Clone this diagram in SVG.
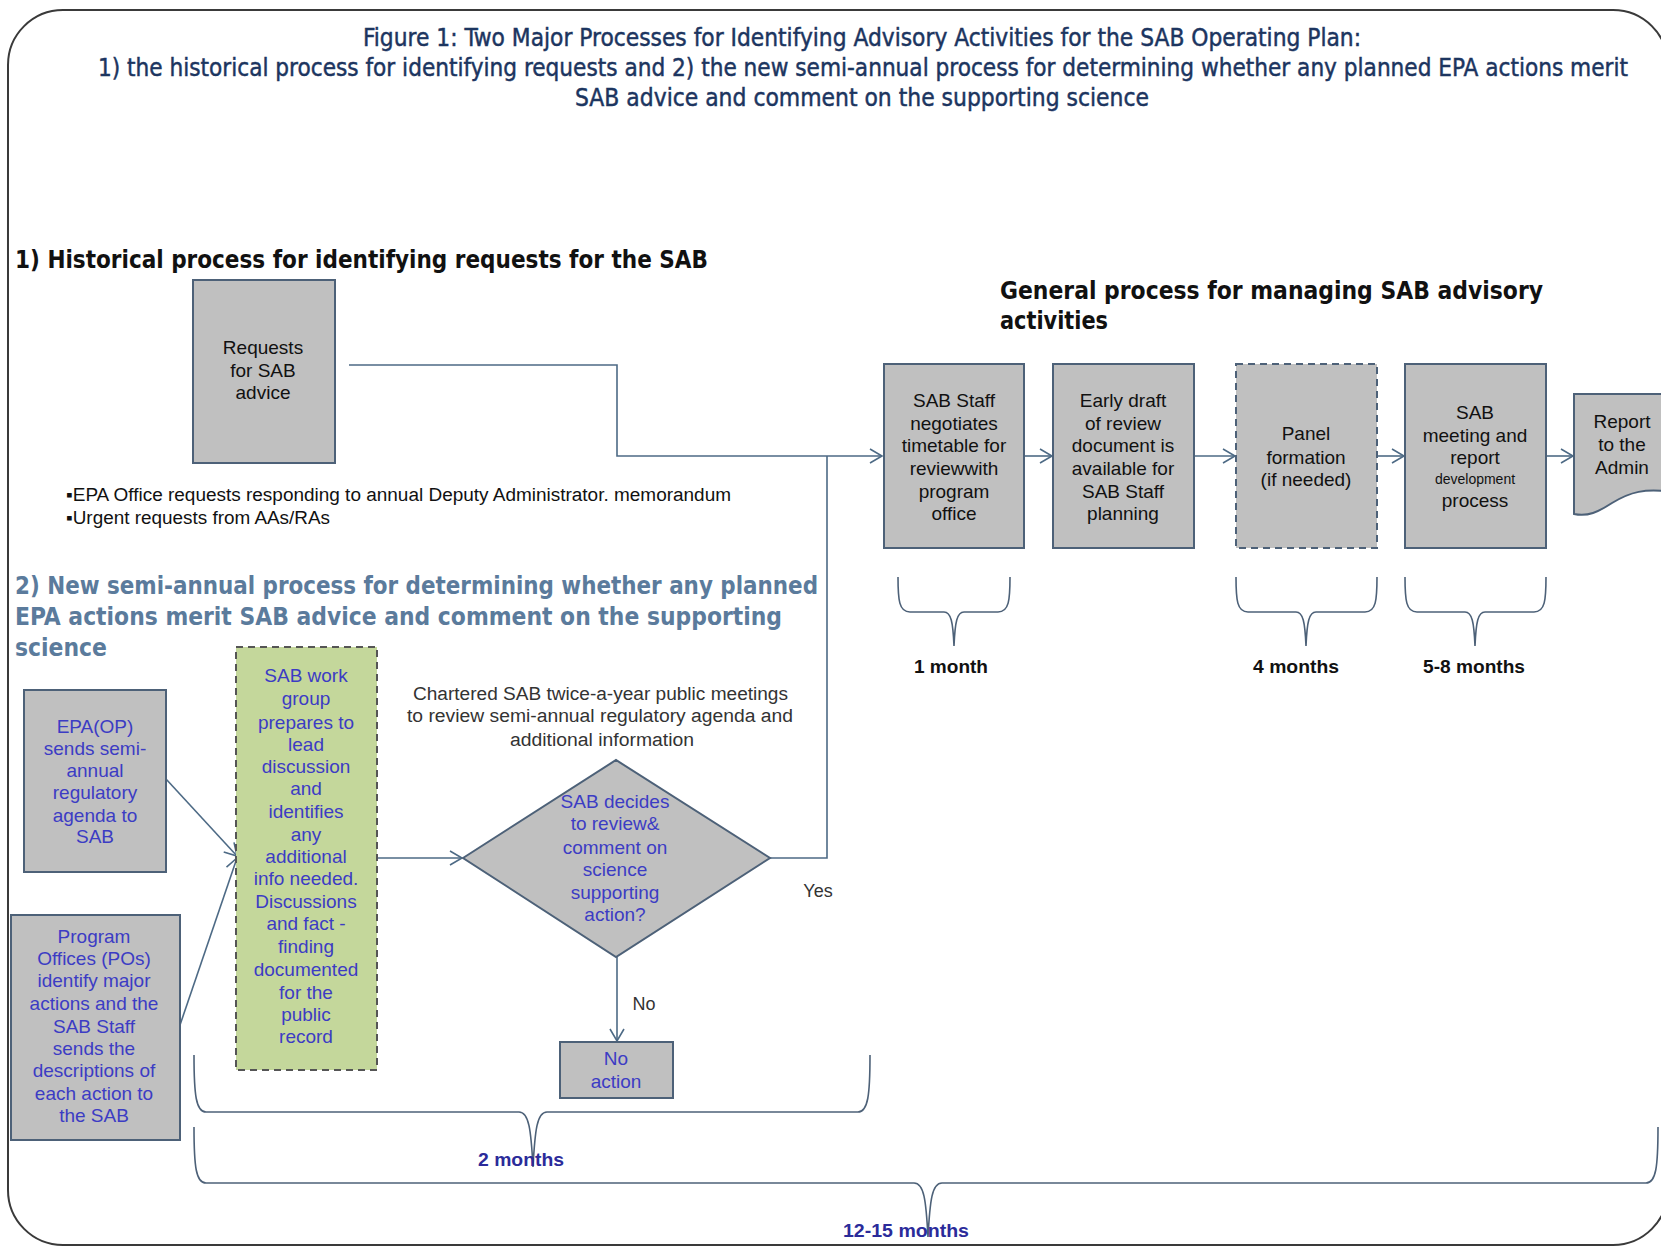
<svg xmlns="http://www.w3.org/2000/svg" width="1661" height="1247" viewBox="0 0 1661 1247">
<style>
.frame{fill:#fff;stroke:#3a3a3a;stroke-width:2}
.box{fill:#c0c0c0;stroke:#4d6178;stroke-width:2}
.dash{stroke-dasharray:7,5}
.green{fill:#c4d79b;stroke:#555;stroke-width:2;stroke-dasharray:7,5}
.con{fill:none;stroke:#4d6a85;stroke-width:1.6}
.brace{fill:none;stroke:#4d6178;stroke-width:1.6}
.title{font-family:"Liberation Sans Narrow","DejaVu Sans Condensed","Liberation Sans",sans-serif;font-size:22px;fill:#1c3560;stroke:#1c3560;stroke-width:0.4}
.h1{font-family:"Liberation Sans Narrow","DejaVu Sans Condensed","Liberation Sans",sans-serif;font-size:25px;font-weight:bold;fill:#111}
.h2{font-family:"Liberation Sans Narrow","DejaVu Sans Condensed","Liberation Sans",sans-serif;font-size:25px;font-weight:bold;fill:#5b7b9c}
.bul{font-family:"Liberation Sans Narrow","Liberation Sans",sans-serif;font-size:18px;fill:#111}
.bt{font-family:"Liberation Sans",Arial,sans-serif;font-size:19px;fill:#111;text-anchor:middle}
.blue{font-family:"Liberation Sans",Arial,sans-serif;font-size:19px;fill:#3c3cc4;text-anchor:middle}
.note{font-family:"Liberation Sans",Arial,sans-serif;font-size:18px;fill:#333;text-anchor:middle}
.dur{font-family:"Liberation Sans Narrow","Liberation Sans",sans-serif;font-size:19px;font-weight:bold;fill:#111}
.durb{font-family:"Liberation Sans Narrow","Liberation Sans",sans-serif;font-size:19px;font-weight:bold;fill:#2b2b9a}
</style>
<defs>
<marker id="arr" markerUnits="userSpaceOnUse" markerWidth="16" markerHeight="18" refX="13" refY="8" orient="auto">
<path d="M1,1 L13,8 L1,15" fill="none" stroke="#4d6a85" stroke-width="1.6"/>
</marker>
</defs>
<rect x="0" y="0" width="1661" height="1247" fill="#fff"/>
<rect class="frame" x="8" y="10" width="1660" height="1235" rx="55" ry="55"/>

<g id="titles">
<text class="title" x="363" y="0" transform="translate(0,46) scale(1,1.15)" textLength="998" lengthAdjust="spacingAndGlyphs">Figure 1: Two Major  Processes for Identifying Advisory Activities for the SAB Operating Plan:</text>
<text class="title" x="98" y="0" transform="translate(0,76) scale(1,1.15)" textLength="1530" lengthAdjust="spacingAndGlyphs">1) the historical process for identifying requests and 2) the new semi-annual process for determining whether any planned EPA actions merit</text>
<text class="title" x="575" y="0" transform="translate(0,106) scale(1,1.15)" textLength="574" lengthAdjust="spacingAndGlyphs">SAB advice and comment on the supporting science</text>
<text class="h1" x="15" y="268" textLength="693" lengthAdjust="spacingAndGlyphs">1) Historical process for identifying requests for the SAB</text>
<text class="h1" x="1000" y="299" textLength="543" lengthAdjust="spacingAndGlyphs">General process for managing  SAB advisory</text>
<text class="h1" x="1000" y="329" textLength="108" lengthAdjust="spacingAndGlyphs">activities</text>
<text class="bul" x="66" y="501" textLength="665" lengthAdjust="spacingAndGlyphs">▪EPA Office requests responding to annual Deputy Administrator. memorandum</text>
<text class="bul" x="66" y="524" textLength="264" lengthAdjust="spacingAndGlyphs">▪Urgent requests from AAs/RAs</text>
<text class="h2" x="15" y="594" textLength="803" lengthAdjust="spacingAndGlyphs">2) New semi-annual process for determining whether any planned</text>
<text class="h2" x="15" y="625" textLength="767" lengthAdjust="spacingAndGlyphs">EPA actions merit SAB advice and comment on the supporting</text>
<text class="h2" x="15" y="656" textLength="92" lengthAdjust="spacingAndGlyphs">science</text>
</g>

<g id="connectors">
<polyline class="con" points="349,365 617,365 617,456 882,456" marker-end="url(#arr)"/>
<polyline class="con" points="770,858 827,858 827,456"/>
<line class="con" x1="1024" y1="456" x2="1052" y2="456" marker-end="url(#arr)"/>
<line class="con" x1="1194" y1="456" x2="1235" y2="456" marker-end="url(#arr)"/>
<line class="con" x1="1377" y1="456" x2="1404" y2="456" marker-end="url(#arr)"/>
<line class="con" x1="1546" y1="456" x2="1573" y2="456" marker-end="url(#arr)"/>
<line class="con" x1="166" y1="779" x2="237" y2="856" marker-end="url(#arr)"/>
<line class="con" x1="180" y1="1025" x2="237" y2="858" marker-end="url(#arr)"/>
<line class="con" x1="377" y1="858" x2="462" y2="858" marker-end="url(#arr)"/>
<line class="con" x1="617" y1="957" x2="617" y2="1041" marker-end="url(#arr)"/>
<text class="note" x="818" y="897">Yes</text>
<text class="note" x="644" y="1010">No</text>
</g>

<g id="requests">
<rect class="box" x="193" y="280" width="142" height="183"/>
<text class="bt" x="263" y="354">Requests</text>
<text class="bt" x="263" y="377">for SAB</text>
<text class="bt" x="263" y="399">advice</text>
</g>

<g id="staff-negotiates">
<rect class="box" x="884" y="364" width="140" height="184"/>
<text class="bt" x="954" y="407">SAB Staff</text>
<text class="bt" x="954" y="430">negotiates</text>
<text class="bt" x="954" y="452">timetable for</text>
<text class="bt" x="954" y="475">reviewwith</text>
<text class="bt" x="954" y="498">program</text>
<text class="bt" x="954" y="520">office</text>
</g>

<g id="early-draft">
<rect class="box" x="1053" y="364" width="141" height="184"/>
<text class="bt" x="1123" y="407">Early draft</text>
<text class="bt" x="1123" y="430">of review</text>
<text class="bt" x="1123" y="452">document is</text>
<text class="bt" x="1123" y="475">available for</text>
<text class="bt" x="1123" y="498">SAB Staff</text>
<text class="bt" x="1123" y="520">planning</text>
</g>

<g id="panel-formation">
<rect class="box dash" x="1236" y="364" width="141" height="184"/>
<text class="bt" x="1306" y="440">Panel</text>
<text class="bt" x="1306" y="464">formation</text>
<text class="bt" x="1306" y="486">(if needed)</text>
</g>

<g id="sab-meeting">
<rect class="box" x="1405" y="364" width="141" height="184"/>
<text class="bt" x="1475" y="419">SAB</text>
<text class="bt" x="1475" y="442">meeting and</text>
<text class="bt" x="1475" y="464">report</text>
<text class="bt" x="1475" y="484" style="font-size:14px">development</text>
<text class="bt" x="1475" y="507">process</text>
</g>

<g id="report-admin">
<path class="box" d="M1574,394 L1672,394 L1672,492 C1645,488 1630,492 1612,503 C1598,512 1588,517 1574,514 Z"/>
<text class="bt" x="1622" y="428">Report</text>
<text class="bt" x="1622" y="451">to the</text>
<text class="bt" x="1622" y="474">Admin</text>
</g>

<g id="epa-op">
<rect class="box" x="24" y="690" width="142" height="182"/>
<text class="blue" x="95" y="733">EPA(OP)</text>
<text class="blue" x="95" y="755">sends semi-</text>
<text class="blue" x="95" y="777">annual</text>
<text class="blue" x="95" y="799">regulatory</text>
<text class="blue" x="95" y="822">agenda to</text>
<text class="blue" x="95" y="843">SAB</text>
</g>

<g id="program-offices">
<rect class="box" x="11" y="915" width="169" height="225"/>
<text class="blue" x="94" y="943">Program</text>
<text class="blue" x="94" y="965">Offices (POs)</text>
<text class="blue" x="94" y="987">identify major</text>
<text class="blue" x="94" y="1010">actions and the</text>
<text class="blue" x="94" y="1033">SAB Staff</text>
<text class="blue" x="94" y="1055">sends the</text>
<text class="blue" x="94" y="1077">descriptions of</text>
<text class="blue" x="94" y="1100">each action to</text>
<text class="blue" x="94" y="1122">the SAB</text>
</g>

<g id="work-group">
<rect class="green" x="236" y="647" width="141" height="423"/>
<text class="blue" x="306" y="682">SAB work</text>
<text class="blue" x="306" y="705">group</text>
<text class="blue" x="306" y="729">prepares to</text>
<text class="blue" x="306" y="751">lead</text>
<text class="blue" x="306" y="773">discussion</text>
<text class="blue" x="306" y="795">and</text>
<text class="blue" x="306" y="818">identifies</text>
<text class="blue" x="306" y="841">any</text>
<text class="blue" x="306" y="863">additional</text>
<text class="blue" x="306" y="885">info needed.</text>
<text class="blue" x="306" y="908">Discussions</text>
<text class="blue" x="306" y="930">and fact -</text>
<text class="blue" x="306" y="953">finding</text>
<text class="blue" x="306" y="976">documented</text>
<text class="blue" x="306" y="999">for the</text>
<text class="blue" x="306" y="1021">public</text>
<text class="blue" x="306" y="1043">record</text>
</g>

<g id="chartered-note">
<text class="note" x="413" y="700" textLength="375" lengthAdjust="spacingAndGlyphs" style="text-anchor:start">Chartered SAB twice-a-year public meetings</text>
<text class="note" x="407" y="722" textLength="386" lengthAdjust="spacingAndGlyphs" style="text-anchor:start">to review semi-annual regulatory agenda and</text>
<text class="note" x="510" y="746" textLength="184" lengthAdjust="spacingAndGlyphs" style="text-anchor:start">additional information</text>
</g>

<g id="decision">
<polygon class="box" points="463,858 616,760 770,858 616,957"/>
<text class="blue" x="615" y="808">SAB decides</text>
<text class="blue" x="615" y="830">to review&amp;</text>
<text class="blue" x="615" y="854">comment  on</text>
<text class="blue" x="615" y="876">science</text>
<text class="blue" x="615" y="899">supporting</text>
<text class="blue" x="615" y="921">action?</text>
</g>

<g id="no-action">
<rect class="box" x="560" y="1042" width="113" height="56"/>
<text class="blue" x="616" y="1065">No</text>
<text class="blue" x="616" y="1088">action</text>
</g>

<g id="durations">
<path class="brace" d="M898,577 C898,600 899,612 910,612 L944,612 C951,612 953,622 954,646 C955,622 957,612 964,612 L998,612 C1009,612 1010,600 1010,577"/>
<path class="brace" d="M1236,577 C1236,600 1237,612 1248,612 L1296,612 C1303,612 1305,622 1306,646 C1307,622 1309,612 1316,612 L1365,612 C1376,612 1377,600 1377,577"/>
<path class="brace" d="M1405,577 C1405,600 1406,612 1417,612 L1465,612 C1472,612 1474,622 1475,646 C1476,622 1478,612 1485,612 L1534,612 C1545,612 1546,600 1546,577"/>
<text class="dur" x="914" y="673" textLength="74" lengthAdjust="spacingAndGlyphs">1 month</text>
<text class="dur" x="1253" y="673" textLength="86" lengthAdjust="spacingAndGlyphs">4 months</text>
<text class="dur" x="1423" y="673" textLength="102" lengthAdjust="spacingAndGlyphs">5-8 months</text>
<path class="brace" d="M194,1055 C194,1095 196,1112 206,1112 L519,1112 C529,1112 531,1130 533,1167 C535,1130 537,1112 547,1112 L858,1112 C868,1112 870,1095 870,1055"/>
<path class="brace" d="M194,1127 C194,1167 196,1183 206,1183 L914,1183 C924,1183 926,1200 928,1237 C930,1200 932,1183 942,1183 L1646,1183 C1656,1183 1658,1167 1658,1127"/>
<text class="durb" x="478" y="1166" textLength="86" lengthAdjust="spacingAndGlyphs">2 months</text>
<text class="durb" x="843" y="1237" textLength="126" lengthAdjust="spacingAndGlyphs">12-15 months</text>
</g>
</svg>
